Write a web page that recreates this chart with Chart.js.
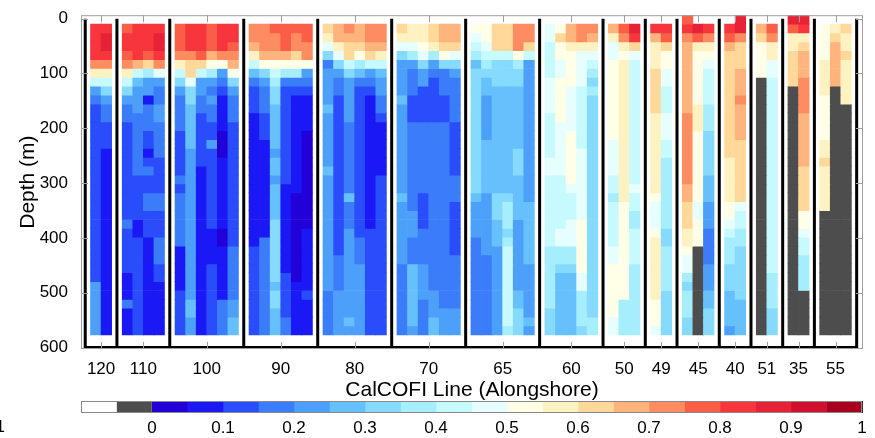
<!DOCTYPE html>
<html>
<head>
<meta charset="utf-8">
<title>CalCOFI alongshore section</title>
<script src="https://cdn.jsdelivr.net/npm/chart.js@4.4.1/dist/chart.umd.min.js"></script>
<style>
  html, body { margin: 0; padding: 0; background: #fff; }
  #wrap { position: relative; width: 875px; height: 438px; overflow: hidden; }
  #main { position: absolute; left: 0; top: 0; }
  #cbar { position: absolute; left: 0; top: 401px; }
</style>
</head>
<body>
<div id="wrap">
  <canvas id="main" width="875" height="401"></canvas>
  <canvas id="cbar" width="875" height="37"></canvas>
</div>
<script>
// CalCOFI lines, north to south along the section
const lineLabels = ['120', '110', '100', '90', '80', '70', '65', '60', '50', '49', '45', '40', '51', '35', '55'];

// One string per station column, run-length coded ("c*n" = n cells of c).
// First cell is the shallow bin above 10 m, then 35 bins of 16.2 m downwards.
// '0'..'j' = 0.05-wide value bins from 0 to 1, 'k' = below the bottom, '.' = no data
const line120 = [
  '. g*4 e b 8 4 3 2*20 4*6',
  '. g h h g e b 8 6 4 3*2 2*3 1*21'
];
const line110 = [
  '. f g*2 f e b 8 6 4 3*2 2*8 2*3 3 2*5 1*3 3 1*3',
  '. g*4 d 8 5 4*3 3*7 2*2 2*3 1*2 2*11',
  '. g*3 f c 7 4*2 1 3*3 2*2 1 2 3 2*2 3*2 2*3 1*11',
  '. g h*2 g e 9 4 3*2 4*2 3*4 2*4 3*2 2*3 3*3 2*2 1*6'
];
const line100 = [
  '. f*3 e b 8 6 4 3*4 2*5 3 2 3*6 1*5 2*5',
  '. g*3 e c*2 9 6*2 5*5 4*5 4*12 5*2 4*2',
  '. g*3 f c 8 4*2 3*2 2*6 1*3 1*16',
  '. f*3 d a 7 4 3 4 3*2 2*2 4 2*5 2*4 1*4 2*8',
  '. g*3 e a 4 3 2 1*4 0*3 1*4 1*4 0*2 1*6 3*4',
  '. g*2 f e d a 6 4 3*3 2*8 2*6 3*6 4*2 5*2'
];
const line90 = [
  '. e*2 d b 8 5 3 2*3 1*9 1*6 2*10',
  '. e*3 d a 6 4 3*3 2*3 1*6 1*5 3*11',
  '. f e*2 d a 8 7 6*2 5*5 4 5*2 4 5 5*3 6*7 5 6*2 5*3',
  '. f*3 d a 7 3 2*11 1 1*9 2*5 3*2',
  '. f e*2 c a 7 3 2 1*11 0*10 1*6',
  '. f*2 e*2 a 4 3 2 1*4 0*7 0*4 1*7 2 1*4'
];
const line80 = [
  '. c b 9 6 3 4*4 5 4*6 5 4*2 4*11 3*5',
  '. d*2 b 9 6 4 3*2 2*11 2*7 3*4 4*5',
  '. e d c*2 8 6 4*5 3*8 5 3*3 4*10 5 4',
  '. d*2 c a 7 5 3 2*12 2*5 3*3 4*8',
  '. e*2 d c 8 4 3 2 1*11 1*4 2*12',
  '. e*2 d b 8 5 4*2 3*2 2 1*6 2*2 2*16'
];
const line70 = [
  '. c b 9 6 4*4 5 4*10 5 4*7 3*8',
  '. b*2 9 7 4 3*3 2*3 3*8 3*2 4*3 3*3 5*7 4',
  '. b*2 a 9 6 4*2 2*4 3*8 2*4 3*4 4*4 3*4',
  '. c*2 b 7 4 3 2*5 3*8 3*11 4*3 5*2',
  '. d*2 c a 6 3*3 2*3 3*8 3*13 4*3',
  '. d*2 c 9 6 4 3*5 2*6 3*2 3 2*6 3*6 4*3'
];
const line65 = [
  '. a 9 8 7 5 6*14 5 4*4 3*11',
  '. a*2 9 8 7 6 5*2 4*5 5*6 4*7 3*9',
  '. c*3 8 6*3 5*12 6*3 5*3 4*10',
  '. c*3 8 6*3 5*12 6 7*3 6 7 8*9 7',
  '. e*3 a 7 6*2 5*7 6*3 5*2 5*3 4*8 5*2 6*3',
  '. e*2 c 8 4*15 4 5*7 4*6 5 4'
];
const line60 = [
  '. 9*2 8*4 9*4 8*5 9*2 8*2 8*6 7*7 6*3',
  '. a c a*2 9*2 a*5 9*6 8*2 8*4 9*2 7*2 6 5*7',
  '. d*2 b a*4 9*5 a*6 9 8*3 9*3 7*2 6 5*7',
  '. e*2 b 9*4 8*7 9*5 9*3 a*6 9*2 7*4 6',
  '. e d b 9 8 7 6 7 6*11 6*14 7*2'
];
const line50 = [
  '. d b 9*2 a*9 9*4 8*2 7 8*5 9*2 a*6 9*2',
  '. f e b a b*15 b a*11 7*4',
  '. h g c 9 8*14 9 8*2 7*2 8*4 7*8'
];
const line49 = [
  '. g d b*3 c*5 b*9 a 9*3 a b*7 a*3 9',
  '. g f c a*2 9*2 8*3 9*3 8*2 7*4 7*4 6*2 7*5 6*5'
];
const line45 = [
  'f g e d*8 e*8 d d c*3 b*2 a 9*2 7 6 7*3 6*2',
  '. h f b a*6 b*3 a*7 a 9*2 a*3 k*10',
  '. g e b a 9 8*4 7*3 6*5 5*2 5 4*3 3*4 4*3 5*2 6*3'
];
const line40 = [
  '. g f d c*12 b*4 b a*2 9 8 7*3 6*3 5*4 4',
  'h h e c*3 d*3 e d*4 c*6 c 9 8*2 7*2 6*6 5*4'
];
const line51 = [
  '. d c a*4 k*29',
  '. f e b*2 9*2 8*13 8*9 7*4 6*3'
];
const line35 = [
  'h f b*2 c*4 k*28',
  'h g b c d*3 e*4 d*6 c*3 c*2 a*2 9 8*2 7*4 k*5'
];
const line55 = [
  '. a*4 b*4 a*5 b*2 c b*3 b*2 k*14',
  '. b c d*5 k*28',
  '. c b*2 c b*5 k*26'
];

// depth grid (m)
const binTop = 10;
const binSize = 16.2;
const depthTicks = [0, 100, 200, 300, 400, 500, 600];

// colour scale: 20 bins of 0.05 between 0 and 1
const binColors = ['#2200d8', '#1a18f5', '#2a4dfb', '#3b7cf9', '#4ca0fa', '#66c0fc', '#86dafe', '#a6edfe', '#c6fafe', '#e6fefe',
                   '#fffee6', '#fff2c2', '#ffd89a', '#feb47c', '#fd8c60', '#fb5e47', '#f6363c', '#e82236', '#d0102c', '#a8001f'];
const landColor = '#4d4d4d';
const blankColor = '#ffffff';
const cbarTicks = [0, 0.1, 0.2, 0.3, 0.4, 0.5, 0.6, 0.7, 0.8, 0.9, 1];
const cbarLabels = ['0', '0.1', '0.2', '0.3', '0.4', '0.5', '0.6', '0.7', '0.8', '0.9', '1'];

const fontFamily = "'Liberation Sans', Arial, Helvetica, sans-serif";
const codes = '0123456789abcdefghij';

function expand(col) {
  let out = '';
  col.split(' ').forEach(tok => {
    const [c, n] = tok.split('*');
    out += c.repeat(n ? +n : 1);
  });
  return out;
}

function colorOf(v) {
  if (v === null) return landColor;
  return binColors[Math.min(19, Math.floor(v / 0.05))];
}

// lay the sections out on one axis: a column per station, one spare unit between sections
const sections = [line120, line110, line100, line90, line80, line70, line65, line60,
                  line50, line49, line45, line40, line51, line35, line55];
const columns = [];
const centers = [];
const dividers = [0];
let edge = 0;
sections.forEach(cols => {
  cols.forEach((c, k) => columns.push({ x: edge + 1 + k, cells: expand(c) }));
  centers.push(edge + (cols.length + 1) / 2);
  edge += cols.length + 1;
  dividers.push(edge);
});

// one floating-bar dataset per depth bin
const nRows = 36;
const datasets = [];
for (let r = 0; r < nRows; r++) {
  const top = binTop + (r - 1) * binSize;
  const data = [];
  columns.forEach(col => {
    const c = col.cells[r];
    if (!c || c === '.') return;
    data.push({ x: col.x, y: [top, top + binSize], v: c === 'k' ? null : (codes.indexOf(c) + 0.5) * 0.05 });
  });
  datasets.push({
    data,
    backgroundColor: data.map(d => colorOf(d.v)),
    borderWidth: 0,
    grouped: false,
    barPercentage: 1,
    categoryPercentage: 1
  });
}

// thick black boxes around each section
const sectionBoxes = {
  id: 'sectionBoxes',
  afterDatasetsDraw(chart) {
    const { ctx, scales: { x, y } } = chart;
    const y0 = y.getPixelForValue(0);
    const y1 = y.getPixelForValue(600);
    ctx.save();
    ctx.strokeStyle = '#000';
    ctx.lineWidth = 3;
    ctx.beginPath();
    dividers.forEach(u => {
      const px = x.getPixelForValue(u);
      ctx.moveTo(px, y0);
      ctx.lineTo(px, y1);
    });
    ctx.moveTo(x.getPixelForValue(dividers[0]) - 1.5, y1);
    ctx.lineTo(x.getPixelForValue(dividers[dividers.length - 1]) + 1.5, y1);
    ctx.stroke();
    ctx.restore();
  }
};

// grey axes box with inward tick marks
const axesBox = {
  id: 'axesBox',
  afterDraw(chart) {
    const { ctx, chartArea: a, scales: { x, y } } = chart;
    const len = 7;
    ctx.save();
    ctx.strokeStyle = '#9e9e9e';
    ctx.lineWidth = 1;
    ctx.strokeRect(a.left + 0.5, a.top + 0.5, a.width - 1, a.height - 1);
    ctx.beginPath();
    x.ticks.forEach(t => {
      const px = Math.round(x.getPixelForValue(t.value)) + 0.5;
      ctx.moveTo(px, a.top); ctx.lineTo(px, a.top + len);
      ctx.moveTo(px, a.bottom); ctx.lineTo(px, a.bottom - len);
    });
    y.ticks.forEach(t => {
      const py = Math.round(y.getPixelForValue(t.value)) + 0.5;
      ctx.moveTo(a.left, py); ctx.lineTo(a.left + len, py);
      ctx.moveTo(a.right, py); ctx.lineTo(a.right - len, py);
    });
    ctx.stroke();
    ctx.restore();
  }
};

new Chart(document.getElementById('main'), {
  type: 'bar',
  data: { datasets },
  options: {
    responsive: false,
    animation: false,
    events: [],
    layout: { padding: { top: 11, right: 12, left: 0, bottom: 0 } },
    plugins: { legend: { display: false }, tooltip: { enabled: false } },
    scales: {
      x: {
        type: 'linear',
        min: -0.4,
        max: 73.6,
        offset: false,
        grid: { display: false },
        border: { display: false },
        afterBuildTicks: s => { s.ticks = centers.map(v => ({ value: v })); },
        afterFit: s => { s.height = 52; },
        ticks: {
          autoSkip: false, maxRotation: 0, padding: 2, color: '#000',
          font: { family: fontFamily, size: 17 },
          callback: (v, i) => lineLabels[i]
        },
        title: {
          display: true, text: 'CalCOFI Line (Alongshore)', color: '#000',
          font: { family: fontFamily, size: 21, lineHeight: 1 }, padding: 0
        }
      },
      y: {
        type: 'linear',
        reverse: true,
        min: -6.3,
        max: 602.7,
        grid: { display: false },
        border: { display: false },
        afterBuildTicks: s => { s.ticks = depthTicks.map(v => ({ value: v })); },
        afterFit: s => { s.width = 81; },
        ticks: { padding: 5, color: '#000', font: { family: fontFamily, size: 17 } },
        title: {
          display: true, text: 'Depth (m)', color: '#000',
          font: { family: fontFamily, size: 21, lineHeight: 1 }, padding: { top: 17.5, bottom: 0 }
        }
      }
    }
  },
  plugins: [sectionBoxes, axesBox]
});

// colour bar: blank, below-bottom, then the 20 value bins
const cbarColors = [blankColor, landColor].concat(binColors);
const cbarEdges = cbarColors.map((c, i) => Math.round((i * 0.05 - 0.1) * 100) / 100);

const cbarFrame = {
  id: 'cbarFrame',
  afterDraw(chart) {
    const { ctx, chartArea: a } = chart;
    ctx.save();
    ctx.strokeStyle = '#8a8a8a';
    ctx.lineWidth = 1;
    ctx.strokeRect(a.left + 0.5, a.top + 0.5, a.width - 1, a.height - 1);
    ctx.fillStyle = '#000';
    ctx.font = '17px ' + fontFamily;
    ctx.textAlign = 'right';
    ctx.textBaseline = 'middle';
    ctx.fillText('1', 5, 26);
    ctx.restore();
  }
};

new Chart(document.getElementById('cbar'), {
  type: 'bar',
  data: {
    labels: [''],
    datasets: cbarColors.map((c, i) => ({
      data: [[cbarEdges[i], Math.round((cbarEdges[i] + 0.05) * 100) / 100]],
      backgroundColor: c,
      borderWidth: 0,
      grouped: false,
      barPercentage: 1,
      categoryPercentage: 1
    }))
  },
  options: {
    indexAxis: 'y',
    responsive: false,
    animation: false,
    events: [],
    layout: { padding: { left: 81, right: 13, top: 0, bottom: 0 } },
    plugins: { legend: { display: false }, tooltip: { enabled: false } },
    scales: {
      y: { display: false },
      x: {
        type: 'linear',
        min: -0.1,
        max: 1,
        z: 1,
        grid: { color: '#333333', lineWidth: 1, drawTicks: false },
        border: { display: false },
        afterBuildTicks: s => { s.ticks = cbarTicks.map(v => ({ value: v })); },
        afterFit: s => { s.height = 25; },
        ticks: {
          padding: 5, color: '#000', autoSkip: false, maxRotation: 0,
          font: { family: fontFamily, size: 17 },
          callback: (v, i) => cbarLabels[i]
        }
      }
    }
  },
  plugins: [cbarFrame]
});
</script>
</body>
</html>
